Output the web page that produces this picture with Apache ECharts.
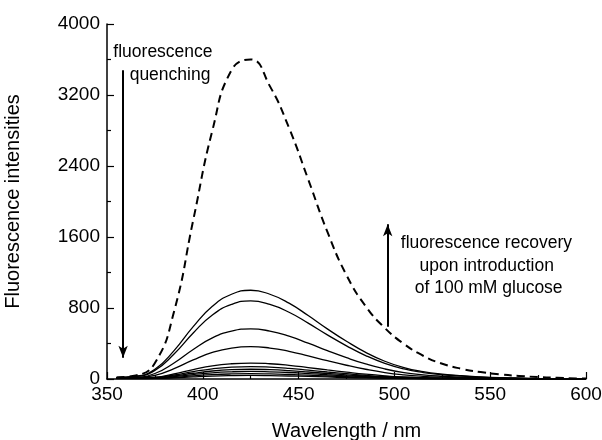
<!DOCTYPE html>
<html>
<head>
<meta charset="utf-8">
<script src="https://cdn.jsdelivr.net/npm/echarts@6/dist/echarts.min.js"></script>
<style>
  html, body { margin: 0; padding: 0; background: #fff; }
  #chart { width: 602px; height: 440px; }
</style>
</head>
<body>
<div id="chart"></div>
<script>
  // wavelengths (nm) shared by every spectrum
  var wavelengths = [355, 365, 375, 385, 395, 405, 415, 425, 435, 445, 455, 465, 475, 485, 495, 505, 515, 525, 535, 545, 555, 565, 575, 585, 595, 600];

  // dashed spectrum (before quenching)
  var dashedSpectrum = [18, 40, 180, 760, 1790, 2800, 3480, 3600, 3300, 2830, 2250, 1660, 1170, 820, 575, 395, 262, 172, 115, 78, 53, 35, 22, 14, 7, 5];

  // solid spectra (recovery with glucose), top to bottom
  var solidSpectra = [
    [18, 32, 110, 320, 590, 820, 955, 1000, 955, 855, 715, 565, 425, 300, 200, 128, 83, 55, 37, 25, 16, 10, 6, 4, 2, 0],
    [16, 28, 97, 282, 519, 722, 840, 880, 840, 752, 629, 497, 374, 264, 176, 113, 73, 48, 33, 22, 14, 9, 5, 4, 2, 0],
    [14, 20, 62, 181, 333, 463, 540, 565, 540, 483, 404, 319, 240, 170, 113, 72, 47, 31, 21, 14, 9, 6, 3, 2, 1, 0],
    [12, 14, 40, 117, 215, 299, 349, 365, 349, 312, 261, 206, 155, 110, 73, 47, 30, 20, 14, 9, 6, 4, 2, 1, 1, 0],
    [10, 10, 20, 58, 106, 148, 172, 180, 172, 154, 129, 102, 77, 54, 36, 23, 15, 10, 7, 5, 3, 2, 1, 1, 0, 0],
    [9, 9, 15, 45, 83, 115, 134, 140, 134, 120, 100, 79, 60, 42, 28, 18, 12, 8, 5, 4, 2, 1, 1, 1, 0, 0],
    [8, 8, 12, 35, 65, 90, 105, 110, 105, 94, 79, 62, 47, 33, 22, 14, 9, 6, 4, 3, 2, 1, 1, 0, 0, 0],
    [7, 7, 9, 27, 50, 70, 81, 85, 81, 73, 61, 48, 36, 26, 17, 11, 7, 5, 3, 2, 1, 1, 1, 0, 0, 0],
    [6, 6, 7, 19, 35, 49, 57, 60, 57, 51, 43, 34, 26, 18, 12, 8, 5, 3, 2, 2, 1, 1, 0, 0, 0, 0],
    [5, 5, 6, 13, 24, 33, 38, 40, 38, 34, 29, 23, 17, 12, 8, 5, 3, 2, 1, 1, 1, 0, 0, 0, 0, 0]
  ];

  // annotation text lines [wavelength, intensity, text]
  var notes = [
    [379.2, 3685, 'fluorescence'],
    [382.9, 3425, 'quenching'],
    [548.0, 1529, 'fluorescence recovery'],
    [548.2, 1273, 'upon introduction'],
    [549.2, 1022, 'of 100 mM glucose']
  ];

  // arrows [x, yFrom, yTo]
  var arrows = [
    [358.4, 3480, 240],
    [496.5, 590, 1745]
  ];

  var font = 'Liberation Sans, Arial, Helvetica, sans-serif';

  function pairs(ys) {
    var out = [];
    for (var i = 0; i < wavelengths.length; i++) {
      out.push([wavelengths[i], ys[i]]);
    }
    return out;
  }

  var series = [];
  // 实线
  for (var i = 0; i < solidSpectra.length; i++) {
    series.push({
      type: 'line',
      data: pairs(solidSpectra[i]),
      smooth: 0.5,
      showSymbol: false,
      lineStyle: { color: '#000', width: 1.3 }
    });
  }
  // 虚线
  series.push({
    type: 'line',
    data: pairs(dashedSpectrum),
    smooth: 0.5,
    showSymbol: false,
    z: 3,
    lineStyle: { color: '#000', width: 2, type: [8, 5] }
  });

  // 文字 + 箭头
  series.push({
    type: 'scatter',
    symbolSize: 0,
    silent: true,
    itemStyle: { opacity: 1 },
    data: notes.map(function (n) { return { value: [n[0], n[1]], name: n[2] }; }),
    label: {
      show: true,
      position: 'inside',
      formatter: '{b}',
      color: '#000',
      opacity: 1,
      textBorderWidth: 0,
      fontSize: 17.5,
      fontFamily: font
    },
    markLine: {
      silent: true,
      symbol: ['none', 'arrow'],
      symbolSize: [7, 12],
      label: { show: false },
      lineStyle: { color: '#000', width: 2, type: 'solid', opacity: 1 },
      data: arrows.map(function (a) {
        return [{ coord: [a[0], a[1]] }, { coord: [a[0], a[2]] }];
      })
    }
  });

  var option = {
    animation: false,
    backgroundColor: '#fff',
    grid: { left: 107, right: 16, top: 24, bottom: 61, containLabel: false, outerBoundsMode: 'none' },
    xAxis: {
      type: 'value',
      min: 350,
      max: 600,
      interval: 50,
      name: 'Wavelength / nm',
      nameLocation: 'middle',
      nameGap: 42,
      nameTextStyle: { color: '#000', fontSize: 20, fontFamily: font },
      axisLine: { lineStyle: { color: '#000', width: 1.5 } },
      axisTick: { inside: true, length: 7, lineStyle: { color: '#000', width: 1.2 } },
      minorTick: { show: true, splitNumber: 2, length: 4, lineStyle: { color: '#000', width: 1.2 } },
      axisLabel: { color: '#000', fontSize: 19, fontFamily: font, margin: 6 },
      splitLine: { show: false }
    },
    yAxis: {
      type: 'value',
      min: 0,
      max: 4000,
      interval: 800,
      name: 'Fluorescence intensities',
      nameLocation: 'middle',
      nameGap: 84,
      nameTextStyle: { color: '#000', fontSize: 20, fontFamily: font },
      axisLine: { show: true, lineStyle: { color: '#000', width: 1.5 } },
      axisTick: { show: true, inside: true, length: 7, lineStyle: { color: '#000', width: 1.2 } },
      minorTick: { show: true, splitNumber: 2, length: 4, lineStyle: { color: '#000', width: 1.2 } },
      axisLabel: {
        color: '#000', fontSize: 19, fontFamily: font, margin: 7,
        formatter: function (v) { return String(v); }
      },
      splitLine: { show: false }
    },
    series: series
  };

  var myChart = echarts.init(document.getElementById('chart'));
  myChart.setOption(option);
</script>
</body>
</html>
